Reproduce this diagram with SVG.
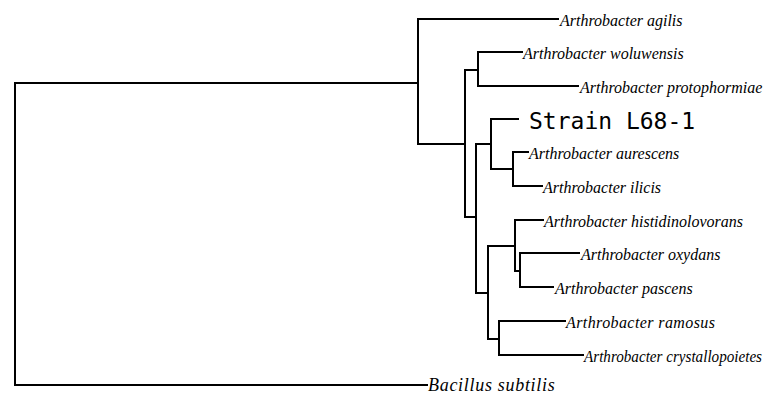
<svg xmlns="http://www.w3.org/2000/svg" width="777" height="396" viewBox="0 0 777 396">
<style>
.e{fill:none;stroke:#000;stroke-width:2;stroke-linecap:square;stroke-linejoin:miter}
.t{font-family:"Liberation Serif","Times New Roman",serif;font-style:italic;font-size:16px;fill:#000}
.b{font-family:"Liberation Serif","Times New Roman",serif;font-style:italic;font-size:18px;letter-spacing:0.7px;fill:#000}
.s{font-family:"DejaVu Sans Mono","Liberation Mono",monospace;font-size:23px;fill:#000}
</style>
<rect width="777" height="396" fill="#fff"/>
<g id="connectors">
<path class="e" d="M418,83 H15 V385 H427"/>
<path class="e" d="M558,19 H418 V144 H465"/>
<path class="e" d="M478,70 H465 V217 H476"/>
<path class="e" d="M522,52 H478 V86 H578"/>
<path class="e" d="M491,144 H476 V293 H488"/>
<path class="e" d="M518,119 H491 V169 H513"/>
<path class="e" d="M528,152 H513 V186 H542"/>
<path class="e" d="M515,246 H488 V339 H499"/>
<path class="e" d="M543,220 H515 V271 H520"/>
<path class="e" d="M579,253 H520 V287 H553"/>
<path class="e" d="M565,321 H499 V355 H583"/>
</g>
<g id="agilis"><text class="t" x="560" y="26">Arthrobacter agilis</text></g>
<g id="woluwensis"><text class="t" x="523" y="59">Arthrobacter woluwensis</text></g>
<g id="protophormiae"><text class="t" x="580" y="93">Arthrobacter protophormiae</text></g>
<g id="strain"><text class="s" x="529" y="129">Strain L68-1</text></g>
<g id="aurescens"><text class="t" x="529" y="159">Arthrobacter aurescens</text></g>
<g id="ilicis"><text class="t" x="543" y="193">Arthrobacter ilicis</text></g>
<g id="histidinolovorans"><text class="t" x="544" y="227">Arthrobacter histidinolovorans</text></g>
<g id="oxydans"><text class="t" x="581" y="260">Arthrobacter oxydans</text></g>
<g id="pascens"><text class="t" x="555" y="294">Arthrobacter pascens</text></g>
<g id="ramosus"><text class="t" x="566" y="328" textLength="149" lengthAdjust="spacing">Arthrobacter ramosus</text></g>
<g id="crystallopoietes"><text class="t" x="584" y="362" textLength="178" lengthAdjust="spacingAndGlyphs">Arthrobacter crystallopoietes</text></g>
<g id="bacillus"><text class="b" x="428" y="391">Bacillus subtilis</text></g>
</svg>
